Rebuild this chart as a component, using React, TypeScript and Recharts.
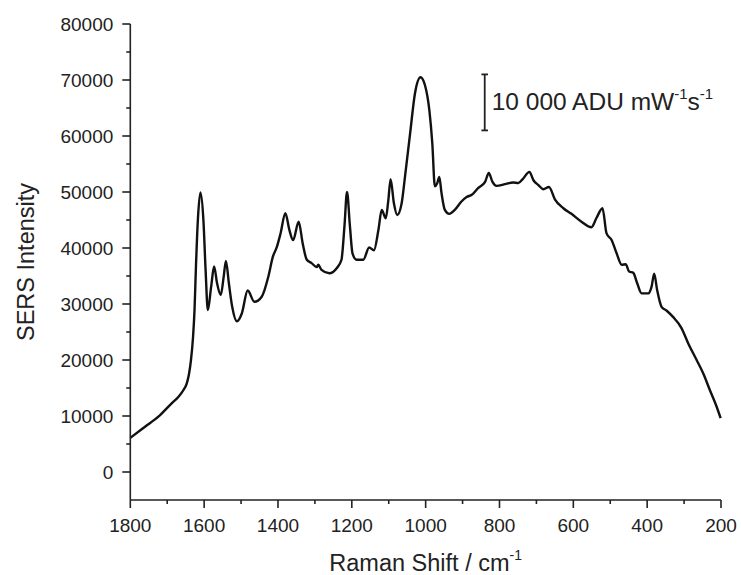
import React from 'react';
import { LineChart, Line, XAxis, YAxis, ReferenceLine } from 'recharts';

// Raman shift (cm^-1), listed from 1800 down to 200
const ramanShift = [
  1800, 1760, 1724, 1688, 1670, 1656, 1647, 1641, 1636, 1630, 1626, 1622, 1617, 1610, 1602, 1596, 1590,
  1581, 1573, 1565, 1555, 1547, 1541, 1533, 1524, 1511, 1498, 1482, 1464, 1444, 1426,
  1414, 1403, 1393, 1380, 1369, 1359, 1344, 1333, 1322, 1309, 1295, 1291, 1282, 1261,
  1241, 1228, 1220, 1213, 1205, 1198, 1187, 1169, 1153, 1140, 1128, 1119, 1108, 1101,
  1095, 1086, 1077, 1065, 1056, 1042, 1029, 1014, 1002, 990, 982, 975, 969, 963,
  957, 948, 936, 921, 903, 889, 875, 858, 839, 829, 819, 808, 785, 763,
  749, 737, 719, 708, 695, 681, 666, 650, 627, 605, 578, 551, 537, 521,
  510, 496, 483, 469, 458, 449, 438, 427, 415, 397, 388, 381, 373, 361,
  347, 330, 307, 289, 266, 248, 230, 212, 201,
];

// SERS intensity (ADU)
const intensity = [
  6100, 8090, 9880, 12270, 13400, 14640, 15830, 17500, 19800, 24160, 29000, 37000, 45000, 49900, 45000, 36000, 28900,
  33100, 36700, 33700, 31600, 34900, 37700, 33700, 29500, 26900, 28300, 32400, 30400, 31300, 34900,
  38400, 40200, 42600, 46200, 43200, 41400, 44700, 40800, 37900, 37300, 36600, 37000, 36100, 35500,
  36400, 37900, 43800, 50000, 43800, 39000, 37900, 37900, 40100, 39600, 43200, 46800, 45300, 48600,
  52300, 48000, 45900, 48000, 52700, 60500, 67600, 70500, 69100, 64600, 58700, 51000, 51500, 52700,
  49800, 46800, 46100, 46800, 48300, 49100, 49500, 50700, 51800, 53400, 51800, 51100, 51400, 51700,
  51600, 52300, 53600, 52100, 51250, 50500, 50900, 48700, 47100, 46100, 44700, 43700, 45400, 47100,
  42600, 41400, 39100, 37000, 37100, 35800, 35600, 33700, 31900, 31900, 33100, 35400, 32500, 29500,
  28800, 27700, 25700, 23000, 20000, 17600, 14600, 11700, 9600,
];

const xTicks = [1800, 1700, 1600, 1500, 1400, 1300, 1200, 1100, 1000, 900, 800, 700, 600, 500, 400, 300, 200];
const yTicks = [0, 5000, 10000, 15000, 20000, 25000, 30000, 35000, 40000, 45000, 50000, 55000, 60000, 65000, 70000, 75000, 80000];

// scale bar: 10 000 ADU tall
const scaleBarX = 840;
const scaleBarBottom = 61000;
const scaleBarTop = 71000;
const scaleCapHalf = 9;

const data = ramanShift.map((x, i) => ({ x, y: intensity[i] }));

const FONT = '"Liberation Sans", Arial, Helvetica, sans-serif';
const AXIS = '#222';
const TEXT = '#222';

const XTick = (props: any) => {
  const { x, y, payload } = props;
  const v = payload.value as number;
  const major = v % 200 === 0;
  return (
    <g>
      <line x1={x} y1={y} x2={x} y2={y + (major ? 8 : 4)} stroke={AXIS} strokeWidth={1.6} />
      {major && (
        <text x={x} y={y + 32} textAnchor="middle" fontSize={19} fill={TEXT} fontFamily={FONT}>
          {v}
        </text>
      )}
    </g>
  );
};

const YTick = (props: any) => {
  const { x, y, payload } = props;
  const v = payload.value as number;
  const major = v % 10000 === 0;
  return (
    <g>
      <line x1={x - (major ? 8 : 4)} y1={y} x2={x} y2={y} stroke={AXIS} strokeWidth={1.6} />
      {major && (
        <text x={x - 17} y={y + 7} textAnchor="end" fontSize={19} fill={TEXT} fontFamily={FONT}>
          {v}
        </text>
      )}
    </g>
  );
};

const YTitle = (props: any) => {
  const vb = props.viewBox || {};
  const cx = (vb.x ?? 0) + 26;
  const cy = (vb.y ?? 0) + (vb.height ?? 0) / 2;
  return (
    <text
      x={cx}
      y={cy}
      transform={`rotate(-90 ${cx} ${cy})`}
      textAnchor="middle"
      dominantBaseline="central"
      fontSize={23.5}
      fill={TEXT}
      fontFamily={FONT}
    >
      SERS Intensity
    </text>
  );
};

const XTitle = (props: any) => {
  const vb = props.viewBox || {};
  const cx = (vb.x ?? 0) + (vb.width ?? 0) / 2;
  const by = (vb.y ?? 0) + 71;
  return (
    <text x={cx} y={by} textAnchor="middle" fontSize={23.5} fill={TEXT} fontFamily={FONT}>
      Raman Shift / cm
      <tspan fontSize={14} dy={-11}>-1</tspan>
    </text>
  );
};

const ScaleText = (props: any) => {
  const vb = props.viewBox || {};
  const x = (vb.x ?? 0) + 7;
  const y = (vb.y ?? 0) + 36;
  return (
    <text x={x} y={y} fontSize={24.5} fill={TEXT} fontFamily={FONT}>
      10 000 ADU mW
      <tspan fontSize={15} dy={-11}>-1</tspan>
      <tspan dy={11}>s</tspan>
      <tspan fontSize={15} dy={-11}>-1</tspan>
    </text>
  );
};

export default function App() {
  return (
    <div style={{ position: 'absolute', left: 0, top: 0, background: '#fff' }}>
      <LineChart width={741} height={575} data={data} margin={{ top: 24, right: 20, left: 0, bottom: 0 }}>
        <XAxis
          dataKey="x"
          type="number"
          domain={[200, 1800]}
          reversed
          ticks={xTicks}
          interval={0}
          height={75}
          tickSize={0}
          tickMargin={0}
          tickLine={false}
          tick={<XTick />}
          axisLine={{ stroke: AXIS, strokeWidth: 1.6 }}
          label={<XTitle />}
        />
        <YAxis
          type="number"
          domain={[-5000, 80000]}
          ticks={yTicks}
          interval={0}
          width={130.3}
          tickSize={0}
          tickMargin={0}
          tickLine={false}
          tick={<YTick />}
          axisLine={{ stroke: AXIS, strokeWidth: 1.6 }}
          label={<YTitle />}
        />
        <ReferenceLine
          segment={[{ x: scaleBarX, y: scaleBarBottom }, { x: scaleBarX, y: scaleBarTop }]}
          stroke={AXIS}
          strokeWidth={1.8}
          ifOverflow="visible"
          label={<ScaleText />}
        />
        <ReferenceLine
          segment={[{ x: scaleBarX + scaleCapHalf, y: scaleBarTop }, { x: scaleBarX - scaleCapHalf, y: scaleBarTop }]}
          stroke={AXIS}
          strokeWidth={1.8}
          ifOverflow="visible"
        />
        <ReferenceLine
          segment={[{ x: scaleBarX + scaleCapHalf, y: scaleBarBottom }, { x: scaleBarX - scaleCapHalf, y: scaleBarBottom }]}
          stroke={AXIS}
          strokeWidth={1.8}
          ifOverflow="visible"
        />
        <Line
          dataKey="y"
          type="monotone"
          stroke="#111"
          strokeWidth={2.4}
          dot={false}
          activeDot={false}
          isAnimationActive={false}
        />
      </LineChart>
    </div>
  );
}
